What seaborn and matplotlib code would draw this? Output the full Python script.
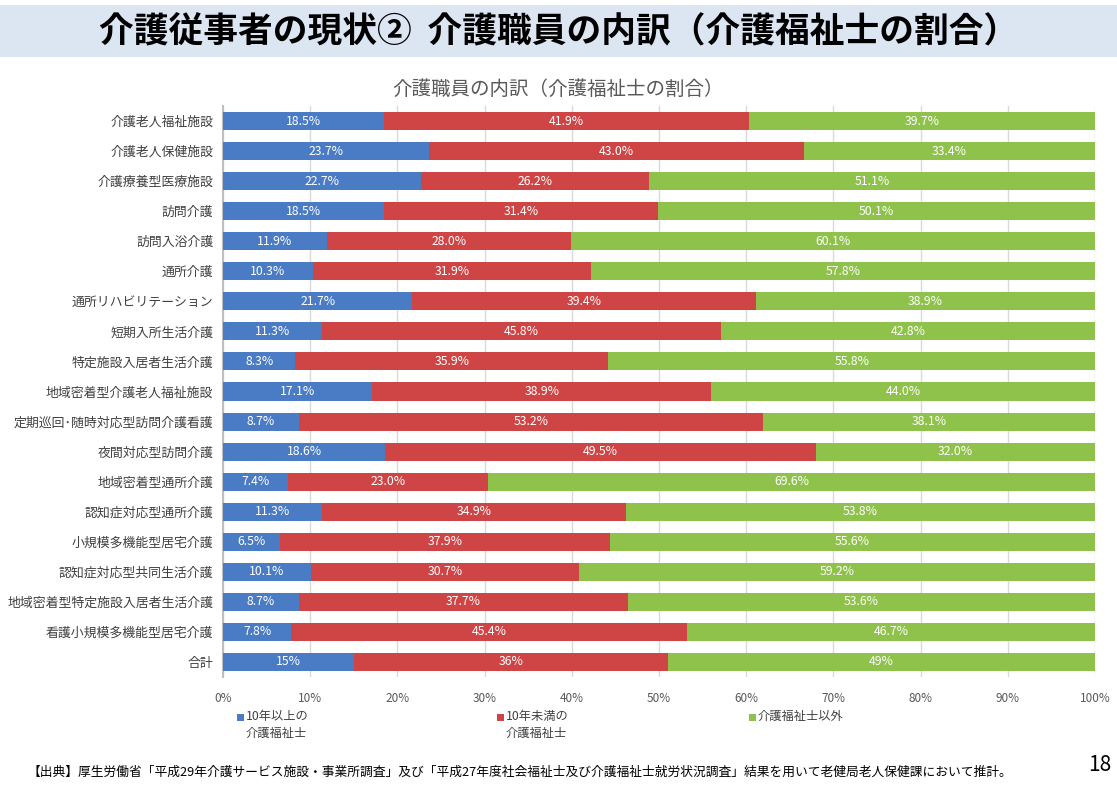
import matplotlib
matplotlib.use("Agg")
import matplotlib.pyplot as plt
import seaborn as sns
import pandas as pd
import numpy as np
from matplotlib.patches import Rectangle

sns.set_theme(style="white")
plt.rcParams['font.family'] = ['Noto Sans CJK JP', 'DejaVu Sans']

categories = ["介護老人福祉施設", "介護老人保健施設", "介護療養型医療施設", "訪問介護", "訪問入浴介護",
              "通所介護", "通所リハビリテーション", "短期入所生活介護", "特定施設入居者生活介護",
              "地域密着型介護老人福祉施設", "定期巡回･随時対応型訪問介護看護", "夜間対応型訪問介護",
              "地域密着型通所介護", "認知症対応型通所介護", "小規模多機能型居宅介護",
              "認知症対応型共同生活介護", "地域密着型特定施設入居者生活介護", "看護小規模多機能型居宅介護", "合計"]
over10 = [18.5, 23.7, 22.7, 18.5, 11.9, 10.3, 21.7, 11.3, 8.3, 17.1, 8.7, 18.6, 7.4, 11.3, 6.5, 10.1, 8.7, 7.8, 15]
under10 = [41.9, 43.0, 26.2, 31.4, 28.0, 31.9, 39.4, 45.8, 35.9, 38.9, 53.2, 49.5, 23.0, 34.9, 37.9, 30.7, 37.7, 45.4, 36]
others = [39.7, 33.4, 51.1, 50.1, 60.1, 57.8, 38.9, 42.8, 55.8, 44.0, 38.1, 32.0, 69.6, 53.8, 55.6, 59.2, 53.6, 46.7, 49]
label_over10 = ["18.5%", "23.7%", "22.7%", "18.5%", "11.9%", "10.3%", "21.7%", "11.3%", "8.3%", "17.1%", "8.7%", "18.6%", "7.4%", "11.3%", "6.5%", "10.1%", "8.7%", "7.8%", "15%"]
label_under10 = ["41.9%", "43.0%", "26.2%", "31.4%", "28.0%", "31.9%", "39.4%", "45.8%", "35.9%", "38.9%", "53.2%", "49.5%", "23.0%", "34.9%", "37.9%", "30.7%", "37.7%", "45.4%", "36%"]
label_others = ["39.7%", "33.4%", "51.1%", "50.1%", "60.1%", "57.8%", "38.9%", "42.8%", "55.8%", "44.0%", "38.1%", "32.0%", "69.6%", "53.8%", "55.6%", "59.2%", "53.6%", "46.7%", "49%"]
series_names = ["10年以上の\n介護福祉士", "10年未満の\n介護福祉士", "介護福祉士以外"]
xticks = [0, 10, 20, 30, 40, 50, 60, 70, 80, 90, 100]

colors = ["#4a7cc5", "#cf4545", "#8fc24b"]

df = pd.DataFrame({"cat": categories, "a": over10, "b": under10, "c": others})
tot = df[["a", "b", "c"]].sum(axis=1)
df["pa"] = df["a"] / tot * 100
df["pb"] = df["b"] / tot * 100
df["pc"] = df["c"] / tot * 100
df["cum_a"] = df["pa"]
df["cum_b"] = df["pa"] + df["pb"]
df["cum_c"] = df["pa"] + df["pb"] + df["pc"]

W, H = 1117, 788
fig = plt.figure(figsize=(W / 100, H / 100), dpi=100)
# title band
fig.patches.append(Rectangle((0, 1 - 57 / H), 1, 52 / H, transform=fig.transFigure,
                             facecolor="#dce6f2", edgecolor="none", zorder=0))
fig.text(0.5, 1 - 32 / H, "介護従事者の現状②  介護職員の内訳（介護福祉士の割合）",
         ha="center", va="center", fontsize=25, fontweight="bold", color="black")

ax = fig.add_axes([223 / W, 1 - 677 / H, (1095 - 223) / W, (677 - 106) / H])

for col, c in zip(["cum_c", "cum_b", "cum_a"], colors[::-1]):
    sns.barplot(data=df, y="cat", x=col, orient="h", color=c, width=0.6,
                saturation=1, ax=ax, edgecolor="none", linewidth=0, zorder=3)

for i in range(len(categories)):
    segs = [(0, df["pa"][i], label_over10[i]),
            (df["cum_a"][i], df["pb"][i], label_under10[i]),
            (df["cum_b"][i], df["pc"][i], label_others[i])]
    for start, w, lab in segs:
        ax.text(start + w / 2, i, lab, ha="center", va="center", color="white",
                fontsize=8.8, zorder=5)

ax.set_xlim(0, 100)
ax.set_ylim(len(categories) - 0.5, -0.5)
ax.set_xticks(xticks)
ax.set_xticklabels([f"{t}%" for t in xticks], fontsize=8.5, color="#595959")
ax.tick_params(axis="x", length=0, pad=11)
ax.tick_params(axis="y", length=0, pad=7, labelsize=9.3, labelcolor="#404040")
ax.set_xlabel("")
ax.set_ylabel("")
ax.grid(axis="x", color="#d9d9d9", linewidth=1, zorder=0)
ax.set_axisbelow(True)
for s in ["top", "right", "bottom"]:
    ax.spines[s].set_visible(False)
ax.spines["left"].set_color("#bfbfbf")
ax.spines["left"].set_linewidth(1.5)

fig.text(558 / W, 1 - 89 / H, "介護職員の内訳（介護福祉士の割合）", ha="center", va="center",
         fontsize=14, color="#595959")

# legend (manual, square aligned with first line)
legend_x = [237, 497, 749]
for x, name, c in zip(legend_x, series_names, colors):
    fig.patches.append(Rectangle((x / W, 1 - 721 / H), 7 / W, 7 / H, transform=fig.transFigure,
                                 facecolor=c, edgecolor="none"))
    fig.text((x + 9) / W, 1 - 710 / H, name, ha="left", va="top", fontsize=8.8,
             color="#404040", linespacing=1.4)

fig.text(27 / W, 1 - 772 / H,
         "【出典】厚生労働省「平成29年介護サービス施設・事業所調査」及び「平成27年度社会福祉士及び介護福祉士就労状況調査」結果を用いて老健局老人保健課において推計。",
         ha="left", va="center", fontsize=9.2, color="black")
fig.text(1100 / W, 1 - 765 / H, "18", ha="center", va="center", fontsize=15, color="black")

fig.savefig("out.png", dpi=100)
